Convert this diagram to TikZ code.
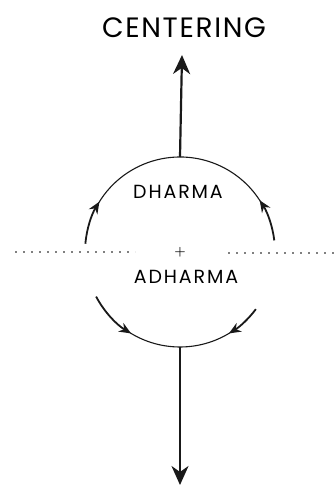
\documentclass[tikz,border=0pt]{standalone}
\usepackage{fontspec}
\newfontfamily\headfont[LetterSpace=6]{Poppins}
\newfontfamily\handfont[LetterSpace=10]{Poppins}
\usetikzlibrary{arrows.meta}

\begin{document}
\begin{tikzpicture}[x=1pt,y=1pt,
  ring/.style={line width=1.1pt,draw=black!90},
  flow/.style={-{Stealth[length=12pt,width=10pt,inset=4pt]},line width=1.8pt,draw=black!90},
  axis/.style={-{Stealth[length=19pt,width=17pt,inset=6pt]},line width=2.2pt,draw=black!90},
  horizon/.style={draw=black!50,line width=1.1pt,dash pattern=on 2pt off 6pt},
  word/.style={font=\handfont\fontsize{19}{19}\selectfont,inner sep=0pt}
]
\useasboundingbox (0,0) rectangle (334,487);
\node[inner sep=0pt,font=\bfseries\fontsize{13}{13}\selectfont] (core) at (180,235) {+};
\node[inner sep=0pt,font=\headfont\fontsize{28}{28}\selectfont] (title) at (184,459) {CENTERING};
\node[word] (dharma) at (178,295) {DHARMA};
\node[word] (adharma) at (186,210) {ADHARMA};

% circle points
\coordinate (top) at (180,330);
\coordinate (bottom) at (180,140);
\coordinate (uptip) at (182,432);
\coordinate (downtip) at (180,2);
\coordinate (lw) at (15,235);
\coordinate (lwend) at (135,235);
\coordinate (re) at (228,234);
\coordinate (reend) at (334,234);

% upper half, both sides rising
\draw[flow] ([shift={(175:95)}]core.center) arc[start angle=175,end angle=148,radius=95];
\draw[ring] ([shift={(152:95)}]core.center) arc[start angle=152,end angle=29,radius=95];
\draw[flow] ([shift={(7:95)}]core.center) arc[start angle=7,end angle=33,radius=95];

% lower half, both sides falling
\draw[flow] ([shift={(208:95)}]core.center) arc[start angle=208,end angle=239,radius=95];
\draw[ring] ([shift={(235:95)}]core.center) arc[start angle=235,end angle=305,radius=95];
\draw[flow] ([shift={(323:95)}]core.center) arc[start angle=323,end angle=301,radius=95];

\draw[axis] (top) -- (uptip);
\draw[axis] (bottom) -- (downtip);

\draw[horizon] (lw) -- (lwend);
\draw[horizon] (re) -- (reend);
\end{tikzpicture}
\end{document}
